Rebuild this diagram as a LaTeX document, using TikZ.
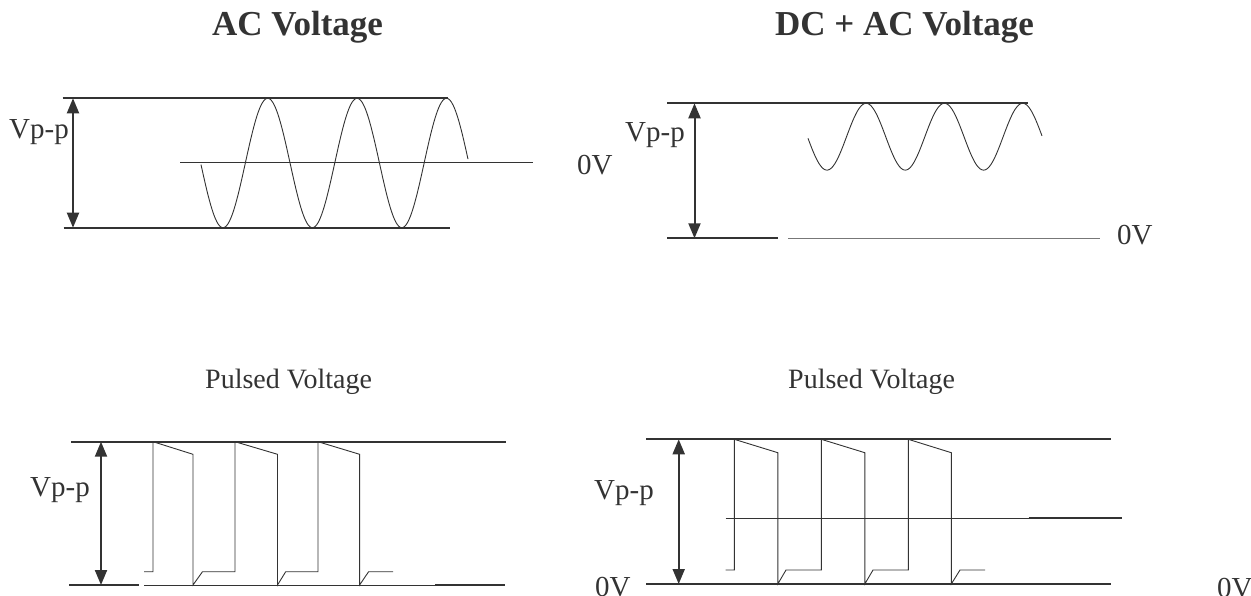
\documentclass[tikz,border=0pt]{standalone}
\usepackage{fontspec}
\setmainfont{Liberation Serif}
\usetikzlibrary{arrows.meta}
\definecolor{ink}{HTML}{333333}
\definecolor{lightink}{HTML}{777777}
\begin{document}
\begin{tikzpicture}[x=1pt,y=-1pt,
 axisline/.style={draw=ink, line width=2pt},
 thinline/.style={draw=ink, line width=1pt},
 greyline/.style={draw=lightink, line width=1.4pt},
 wave/.style={draw=ink, line width=0.9pt, line join=miter},
 vpp/.style={draw=ink, line width=2pt, {Triangle[length=15pt,width=12pt]}-{Triangle[length=15pt,width=12pt]}},
 title/.style={font=\fontsize{35}{40}\selectfont\bfseries, text=ink, inner sep=0pt, anchor=base west},
 sub/.style={font=\fontsize{28}{32}\selectfont, text=ink, inner sep=0pt, anchor=base west},
 lbl/.style={font=\fontsize{29}{32}\selectfont, text=ink, inner sep=0pt, anchor=base west},
]
\useasboundingbox (0,0) rectangle (1251,596);

% ---------- titles ----------
\node[title] (tac) at (212,36) {AC Voltage};
\node[title] (tdc) at (775,36) {DC + AC Voltage};
\node[sub] (tp1) at (205,388) {Pulsed Voltage};
\node[sub] (tp2) at (788,388) {Pulsed Voltage};

% ---------- AC Voltage ----------
\coordinate (a1) at (62.5,98.3);  \coordinate (a2) at (448,98.3);
\coordinate (a3) at (63.6,227.7); \coordinate (a4) at (450,227.7);
\coordinate (a5) at (180,163);    \coordinate (a6) at (533,163);
\coordinate (aT) at (73,98.3);    \coordinate (aB) at (73,227.7);
\draw[axisline] (a1) -- (a2);
\draw[axisline] (a3) -- (a4);
\draw[thinline] (a5) -- (a6);
\draw[vpp] (aT) -- (aB);
\draw[wave] plot[domain=201:468, samples=220] (\x, {163+64.7*sin((\x-200.65)/89.4*360)});
\node[lbl] (avpp) at (9,139) {Vp-p};
\node[lbl] (a0v) at (577,175) {0V};

% ---------- DC + AC Voltage ----------
\coordinate (d1) at (667,103.3);  \coordinate (d2) at (1028,103.3);
\coordinate (d3) at (667,238.3);  \coordinate (d4) at (778,238.3);
\coordinate (d5) at (788,238.3);  \coordinate (d6) at (1100,238.3);
\coordinate (dT) at (694.5,103.3); \coordinate (dB) at (694.5,238.3);
\draw[axisline] (d1) -- (d2);
\draw[axisline] (d3) -- (d4);
\draw[greyline] (d5) -- (d6);
\draw[vpp] (dT) -- (dB);
\draw[wave] plot[domain=808:1042, samples=220] (\x, {136.7+33.4*sin((\x-807.4)/78.3*360)});
\node[lbl] (dvpp) at (625,142) {Vp-p};
\node[lbl] (d0v) at (1117,245) {0V};

% ---------- Pulsed Voltage (left) ----------
\coordinate (p1) at (71.4,441.7); \coordinate (p2) at (506,441.7);
\coordinate (p3) at (69,585);     \coordinate (p4) at (139,585);
\coordinate (p5) at (144,585);    \coordinate (p6) at (435,585);
\coordinate (p7) at (505,585);
\coordinate (pT) at (101,441.7);  \coordinate (pB) at (101,585);
\draw[axisline] (p1) -- (p2);
\draw[axisline] (p3) -- (p4);
\draw[thinline] (p5) -- (p6);
\draw[axisline] (p6) -- (p7);
\draw[vpp] (pT) -- (pB);
\draw[wave] (144,571.7) -- (153,571.7) -- (153,441.7) -- (193,454.3) -- (193,585)
  -- (202.5,571.7) -- (235,571.7) -- (235,441.7) -- (277.5,454.3) -- (277.5,585)
  -- (285.7,571.7) -- (318,571.7) -- (318,441.7) -- (359.6,454.3) -- (359.6,585)
  -- (368.6,571.7) -- (393,571.7);
\node[lbl] (pvpp) at (30,496) {Vp-p};

% ---------- Pulsed Voltage (right) ----------
\coordinate (q1) at (646,439.3);  \coordinate (q2) at (1111,439.3);
\coordinate (q3) at (646,584);    \coordinate (q4) at (1111,584);
\coordinate (q5) at (725.7,518);  \coordinate (q6) at (1028.7,518);
\coordinate (q7) at (1122,518);
\coordinate (qT) at (678.7,439.3); \coordinate (qB) at (678.7,584);
\draw[axisline] (q1) -- (q2);
\draw[axisline] (q3) -- (q4);
\draw[thinline] (q5) -- (q6);
\draw[axisline] (q6) -- (q7);
\draw[vpp] (qT) -- (qB);
\draw[wave] (725.7,570) -- (734.3,570) -- (734.3,439.3) -- (777.8,452.7) -- (777.8,584)
  -- (786,570) -- (821.3,570) -- (821.3,439.3) -- (864.8,452.7) -- (864.8,584)
  -- (873,570) -- (908.3,570) -- (908.3,439.3) -- (951.3,452.7) -- (951.3,584)
  -- (960,570) -- (985,570);
\node[lbl] (qvpp) at (594,499) {Vp-p};
\node[lbl] (q0v) at (595,596) {0V};
\node[lbl] (q0vr) at (1217,597) {0V};
\end{tikzpicture}
\end{document}
